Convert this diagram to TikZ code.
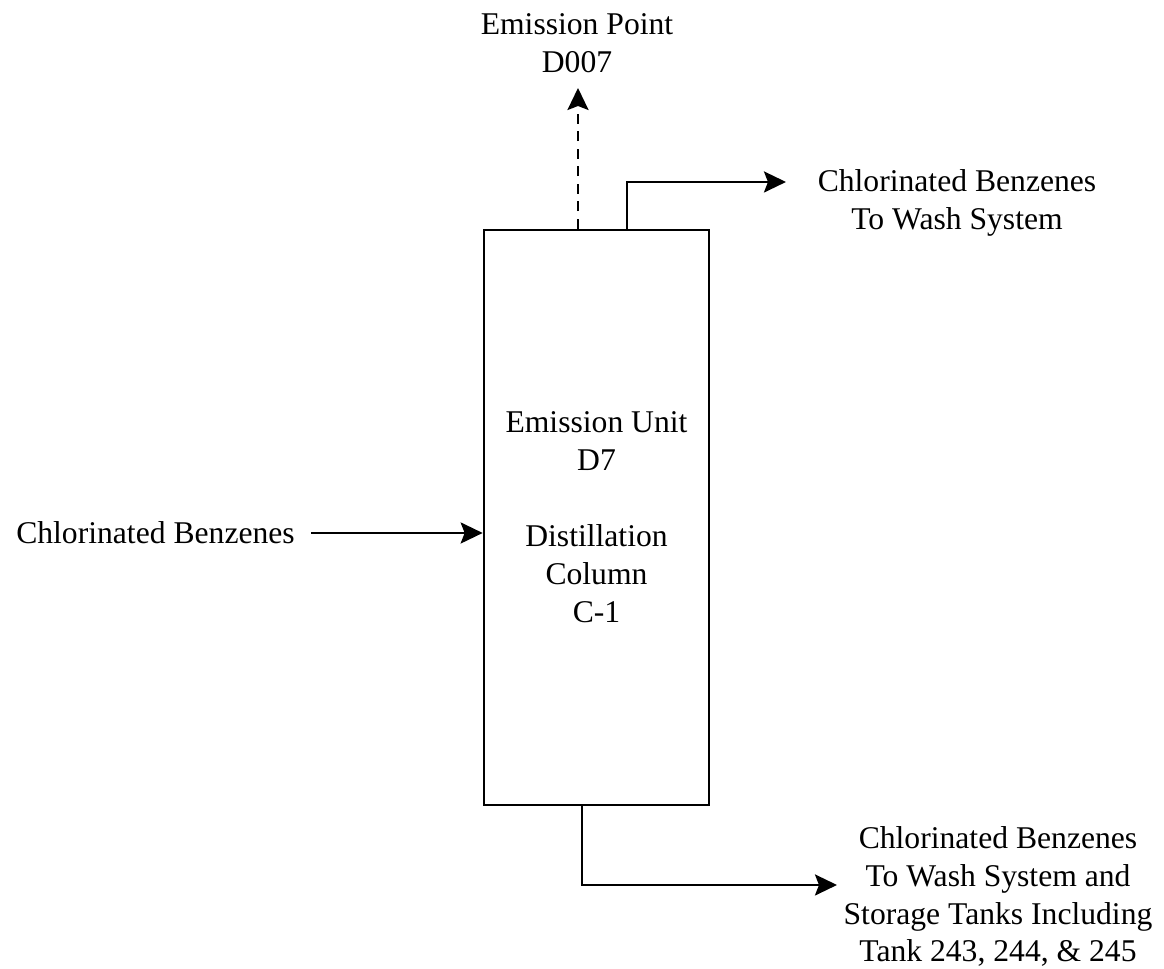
\documentclass[tikz,border=0pt]{standalone}
\usepackage{fontspec}
\setmainfont{Liberation Serif}
\usetikzlibrary{arrows.meta, positioning, calc}

\begin{document}
\begin{tikzpicture}[
    font=\fontsize{18}{21.6}\selectfont,
    flow/.style={line width=1.5pt, -{Stealth[length=0.44cm, width=0.42cm, inset=0.08cm]}},
    txt/.style={align=center, inner sep=0pt}
]
\useasboundingbox (0,0) rectangle (23.28,19.38);

% Column
\node[draw, line width=1.5pt, minimum width=4.5cm, minimum height=11.5cm, align=center] (col) at (11.93,9.03)
    {Emission Unit\\D7\\[21.6pt]Distillation\\Column\\C-1};

% Emission point (dashed)
\node[txt] (ep) at (11.54,18.51) {Emission Point\\D007};
\coordinate (eptip) at (11.56,17.62);
\draw[flow, dash pattern=on 0.2cm off 0.15cm] (col.north -| eptip) -- (eptip);

% Overhead to wash system
\node[txt] (wash) at (19.14,15.33) {Chlorinated Benzenes\\To Wash System};
\coordinate (washtip) at (15.72,15.74);
\draw[flow] ($(col.north)+(0.61,0)$) |- (washtip);

% Feed
\node[txt] (feed) at (3.11,8.72) {Chlorinated Benzenes};
\draw[flow] ([xshift=0.32cm]feed.east) -- (feed -| col.west);

% Bottoms to wash system and storage
\node[txt] (store) at (19.96,1.45) {Chlorinated Benzenes\\To Wash System and\\Storage Tanks Including\\Tank 243, 244, \& 245};
\coordinate (storetip) at (16.74,1.68);
\draw[flow] ($(col.south)+(-0.29,0)$) |- (storetip);
\end{tikzpicture}
\end{document}
